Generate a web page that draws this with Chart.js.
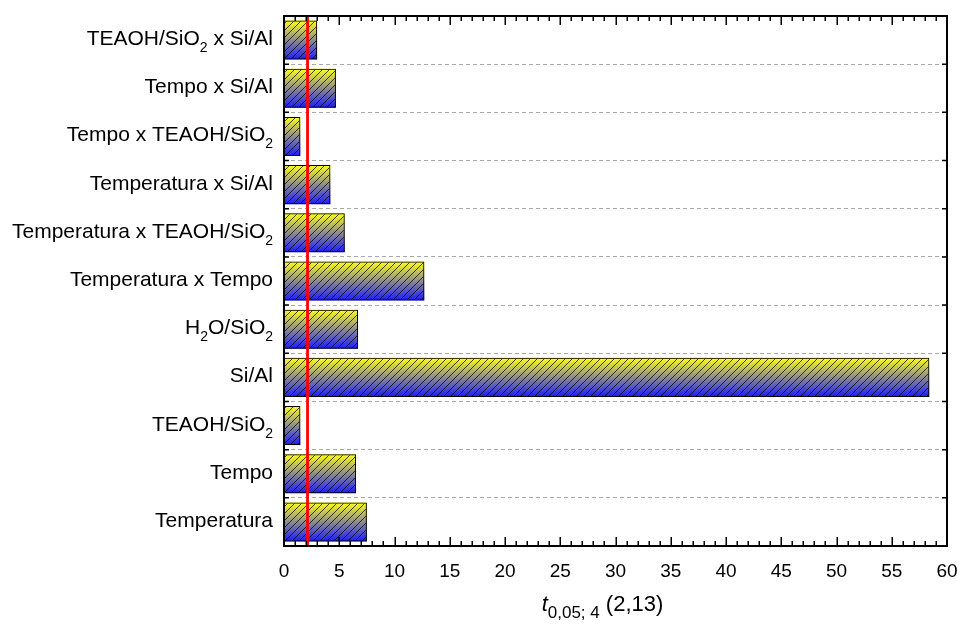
<!DOCTYPE html>
<html>
<head>
<meta charset="utf-8">
<script src="https://cdn.jsdelivr.net/npm/chart.js@4/dist/chart.umd.min.js"></script>
<style>
  html, body { margin: 0; padding: 0; background: #fff; }
  canvas { display: block; }
</style>
</head>
<body>
<canvas id="chart" width="959" height="627"></canvas>
<script>
// Effects, listed top to bottom (₂ is drawn as a real subscript)
const factors = [
  'TEAOH/SiO₂ x Si/Al',
  'Tempo x Si/Al',
  'Tempo x TEAOH/SiO₂',
  'Temperatura x Si/Al',
  'Temperatura x TEAOH/SiO₂',
  'Temperatura x Tempo',
  'H₂O/SiO₂',
  'Si/Al',
  'TEAOH/SiO₂',
  'Tempo',
  'Temperatura'
];

// t statistic of each effect
const tValues = [3.0, 4.7, 1.48, 4.2, 5.5, 12.7, 6.7, 58.4, 1.48, 6.52, 7.5];

// Critical value t(0.05; 4)
const tCritical = 2.13;

// x axis
const xMin = 0;
const xMax = 60;
const xMajorStep = 5;
const xMinorStep = 1;

const FONT = '"Liberation Sans", Arial, sans-serif';
const BAR_FRACTION = 0.81;

// Yellow-to-blue vertical gradient, one per bar
function gradientFill(c) {
  const chart = c.chart;
  const y = chart.scales && chart.scales.y;
  if (!y || !chart.chartArea || c.dataIndex === undefined) return '#888';
  const center = y.getPixelForValue(c.dataIndex);
  const half = (chart.chartArea.height / factors.length) * BAR_FRACTION / 2;
  const g = chart.ctx.createLinearGradient(0, center - half, 0, center + half);
  g.addColorStop(0, '#ffff1a');
  g.addColorStop(1, '#1a1aff');
  return g;
}

// Diagonal hatch drawn over the gradient
function makeHatch() {
  const s = 7;
  const c = document.createElement('canvas');
  c.width = s; c.height = s;
  const g = c.getContext('2d');
  g.strokeStyle = 'rgba(0,0,0,0.8)';
  g.lineWidth = 0.9;
  g.beginPath();
  g.moveTo(-1, 1); g.lineTo(1, -1);
  g.moveTo(0, s); g.lineTo(s, 0);
  g.moveTo(s - 1, s + 1); g.lineTo(s + 1, s - 1);
  g.stroke();
  return g.createPattern(c, 'repeat');
}

// Draws a label, turning ₂ into a lowered, smaller 2; right-aligned at x
function drawRichLabel(ctx, text, xRight, baseline) {
  const mainFont = '21px ' + FONT;
  const subFont = '14px ' + FONT;
  const parts = [];
  let buf = '';
  for (const ch of text) {
    if (ch === '₂') {
      if (buf) parts.push({ t: buf, sub: false });
      parts.push({ t: '2', sub: true });
      buf = '';
    } else buf += ch;
  }
  if (buf) parts.push({ t: buf, sub: false });
  let total = 0;
  for (const p of parts) {
    ctx.font = p.sub ? subFont : mainFont;
    p.w = ctx.measureText(p.t).width;
    total += p.w;
  }
  let x = xRight - total;
  ctx.textAlign = 'left';
  ctx.textBaseline = 'alphabetic';
  for (const p of parts) {
    ctx.font = p.sub ? subFont : mainFont;
    ctx.fillText(p.t, x, baseline + (p.sub ? 7 : 0));
    x += p.w;
  }
}

const decorations = {
  id: 'decorations',
  afterDatasetsDraw(chart) {
    const { ctx, chartArea: a, scales: { x } } = chart;
    const px = x.getPixelForValue(tCritical);
    ctx.save();
    ctx.strokeStyle = '#ff0000';
    ctx.lineWidth = 2.8;
    ctx.beginPath();
    ctx.moveTo(px, a.top);
    ctx.lineTo(px, a.bottom);
    ctx.stroke();
    ctx.restore();
  },
  afterDraw(chart) {
    const { ctx, chartArea: a, scales: { x, y } } = chart;
    ctx.save();
    ctx.strokeStyle = '#000';

    // inward ticks on bottom and top edges
    ctx.lineWidth = 1.5;
    ctx.beginPath();
    for (let v = xMin; v <= xMax + 1e-9; v += xMinorStep) {
      const px = Math.round(x.getPixelForValue(v)) + 0.25;
      const major = Math.abs(v / xMajorStep - Math.round(v / xMajorStep)) < 1e-9;
      const len = major ? 9 : 5;
      ctx.moveTo(px, a.bottom); ctx.lineTo(px, a.bottom - len);
      ctx.moveTo(px, a.top); ctx.lineTo(px, a.top + len);
    }
    // inward ticks at category boundaries on left and right edges
    for (let i = 0; i < factors.length - 1; i++) {
      const py = (y.getPixelForValue(i) + y.getPixelForValue(i + 1)) / 2;
      ctx.moveTo(a.left, py); ctx.lineTo(a.left + 5, py);
      ctx.moveTo(a.right, py); ctx.lineTo(a.right - 5, py);
    }
    ctx.stroke();

    // frame
    ctx.lineWidth = 2;
    ctx.strokeRect(a.left, a.top, a.right - a.left, a.bottom - a.top);

    // category labels
    ctx.fillStyle = '#000';
    factors.forEach((lab, i) => {
      drawRichLabel(ctx, lab, a.left - 11, y.getPixelForValue(i) + 5);
    });

    // axis title: t with subscript 0,05; 4 followed by (2,13)
    const title = [
      { t: 't', font: 'italic 22px ' + FONT, dy: 0 },
      { t: '0,05; 4', font: '17px ' + FONT, dy: 7 },
      { t: ' (' + tCritical.toFixed(2).replace('.', ',') + ')', font: '22px ' + FONT, dy: 0 }
    ];
    let tw = 0;
    for (const p of title) { ctx.font = p.font; p.w = ctx.measureText(p.t).width; tw += p.w; }
    let tx = (a.left + a.right) / 2 - 13 - tw / 2;
    const base = a.bottom + 65;
    ctx.textAlign = 'left';
    ctx.textBaseline = 'alphabetic';
    for (const p of title) {
      ctx.font = p.font;
      ctx.fillText(p.t, tx, base + p.dy);
      tx += p.w;
    }
    ctx.restore();
  }
};

const hatch = makeHatch();

new Chart(document.getElementById('chart'), {
  type: 'bar',
  data: {
    labels: factors,
    datasets: [
      {
        // hatch and outline, drawn on top
        data: tValues,
        backgroundColor: hatch,
        borderColor: '#000',
        borderWidth: 1,
        grouped: false,
        order: 0,
        categoryPercentage: 1,
        barPercentage: BAR_FRACTION
      },
      {
        // gradient fill underneath
        data: tValues,
        backgroundColor: gradientFill,
        borderWidth: 0,
        grouped: false,
        order: 1,
        categoryPercentage: 1,
        barPercentage: BAR_FRACTION
      }
    ]
  },
  options: {
    indexAxis: 'y',
    responsive: false,
    animation: false,
    events: [],
    layout: { padding: { top: 16, right: 12, left: 0, bottom: 0 } },
    scales: {
      x: {
        type: 'linear',
        min: xMin,
        max: xMax,
        ticks: {
          stepSize: xMajorStep,
          color: '#000',
          font: { family: FONT, size: 19 },
          padding: 14,
          maxRotation: 0
        },
        grid: { display: false, drawTicks: false },
        border: { display: false },
        afterFit(s) { s.height = 81; s.paddingLeft = 0; s.paddingRight = 0; }
      },
      y: {
        ticks: { display: false },
        grid: { color: '#a8a8a8', lineWidth: 1, drawTicks: false, offset: true },
        border: { display: false, dash: [4, 3] },
        afterFit(s) { s.width = 284; }
      }
    },
    plugins: {
      legend: { display: false },
      tooltip: { enabled: false }
    }
  },
  plugins: [decorations]
});
</script>
</body>
</html>
